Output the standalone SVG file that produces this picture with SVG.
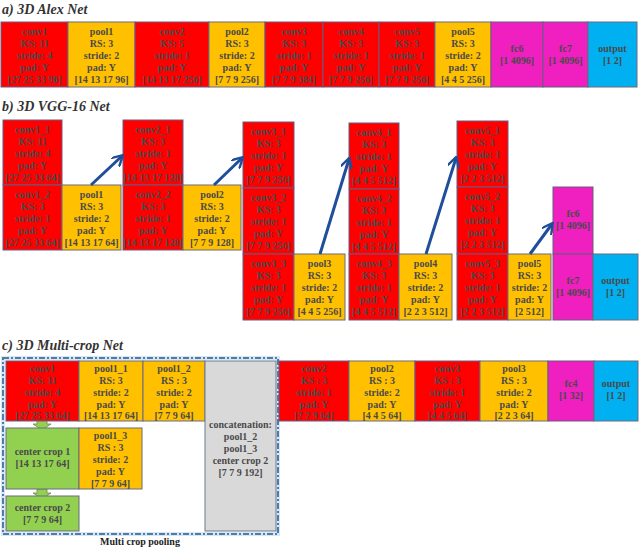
<svg xmlns="http://www.w3.org/2000/svg" width="640" height="547" viewBox="0 0 640 547">
<style>
.t{font-family:"Liberation Serif",serif;font-weight:bold;font-size:10px;fill:#4a4a4a;text-anchor:middle}
.h{font-family:"Liberation Serif",serif;font-weight:bold;font-style:italic;font-size:14px;fill:#333}
.r{fill:#ff0000;stroke:#6a5a80;stroke-width:1}
.y{fill:#ffc000;stroke:#6a6a80;stroke-width:1}
.m{fill:#f01fc0;stroke:#6a5a80;stroke-width:1}
.b{fill:#00b0f0;stroke:#6a6a80;stroke-width:1}
.g{fill:#92d050;stroke:#6a6a80;stroke-width:1}
.c{fill:#d9d9d9;stroke:#6a7a90;stroke-width:1}
.a{stroke:#1f4e9a;stroke-width:3;fill:none;marker-end:url(#ah)}
</style>
<defs><marker id="ah" viewBox="0 0 10 10" refX="8" refY="5" markerWidth="4" markerHeight="4" orient="auto"><path d="M0,0 L9,5 L0,10" fill="none" stroke="#1f4e9a" stroke-width="2"/></marker></defs>
<rect width="640" height="547" fill="#fff"/>
<text class="h" x="2" y="14">a) 3D Alex Net</text>
<text class="h" x="2" y="111">b) 3D VGG-16 Net</text>
<text class="h" x="2" y="350">c) 3D Multi-crop Net</text>

<g id="alex">
<rect class="r" x="1" y="22" width="67" height="65"/><text class="t" x="34.5"><tspan x="34.5" y="35">conv1</tspan><tspan x="34.5" y="47">KS: 11</tspan><tspan x="34.5" y="59">stride: 4</tspan><tspan x="34.5" y="71">pad: Y</tspan><tspan x="34.5" y="83">[27 25 33 96]</tspan></text>
<rect class="y" x="68" y="22" width="67" height="65"/><text class="t"><tspan x="101.5" y="35">pool1</tspan><tspan x="101.5" y="47">RS: 3</tspan><tspan x="101.5" y="59">stride: 2</tspan><tspan x="101.5" y="71">pad: Y</tspan><tspan x="101.5" y="83">[14 13 17 96]</tspan></text>
<rect class="r" x="135" y="22" width="74" height="65"/><text class="t"><tspan x="172" y="35">conv2</tspan><tspan x="172" y="47">KS: 5</tspan><tspan x="172" y="59">stride: 1</tspan><tspan x="172" y="71">pad: Y</tspan><tspan x="172" y="83">[14 13 17 256]</tspan></text>
<rect class="y" x="209" y="22" width="56" height="65"/><text class="t"><tspan x="237" y="35">pool2</tspan><tspan x="237" y="47">RS: 3</tspan><tspan x="237" y="59">stride: 2</tspan><tspan x="237" y="71">pad: Y</tspan><tspan x="237" y="83">[7 7 9 256]</tspan></text>
<rect class="r" x="265" y="22" width="58" height="65"/><text class="t"><tspan x="294" y="35">conv3</tspan><tspan x="294" y="47">KS: 3</tspan><tspan x="294" y="59">stride: 1</tspan><tspan x="294" y="71">pad: Y</tspan><tspan x="294" y="83">[7 7 9 384]</tspan></text>
<rect class="r" x="323" y="22" width="56" height="65"/><text class="t"><tspan x="351" y="35">conv4</tspan><tspan x="351" y="47">KS: 3</tspan><tspan x="351" y="59">stride: 1</tspan><tspan x="351" y="71">pad: Y</tspan><tspan x="351" y="83">[7 7 9 256]</tspan></text>
<rect class="r" x="379" y="22" width="56" height="65"/><text class="t"><tspan x="407" y="35">conv5</tspan><tspan x="407" y="47">KS: 3</tspan><tspan x="407" y="59">stride: 1</tspan><tspan x="407" y="71">pad: Y</tspan><tspan x="407" y="83">[7 7 9 256]</tspan></text>
<rect class="y" x="435" y="22" width="56" height="65"/><text class="t"><tspan x="463" y="35">pool5</tspan><tspan x="463" y="47">RS: 3</tspan><tspan x="463" y="59">stride: 2</tspan><tspan x="463" y="71">pad: Y</tspan><tspan x="463" y="83">[4 4 5 256]</tspan></text>
<rect class="m" x="491" y="22" width="52" height="65"/><text class="t"><tspan x="517" y="52">fc6</tspan><tspan x="517" y="64">[1 4096]</tspan></text>
<rect class="m" x="543" y="22" width="45" height="65"/><text class="t"><tspan x="565.5" y="52">fc7</tspan><tspan x="565.5" y="64">[1 4096]</tspan></text>
<rect class="b" x="588" y="22" width="49" height="65"/><text class="t"><tspan x="612.5" y="52">output</tspan><tspan x="612.5" y="64">[1 2]</tspan></text>
</g>

<g id="vgg">
<rect class="r" x="3" y="120" width="59" height="65"/><text class="t"><tspan x="32.5" y="133">conv1_1</tspan><tspan x="32.5" y="145">KS: 11</tspan><tspan x="32.5" y="157">stride: 4</tspan><tspan x="32.5" y="169">pad: Y</tspan><tspan x="32.5" y="181">[27 25 33 64]</tspan></text>
<rect class="r" x="3" y="185" width="59" height="65"/><text class="t"><tspan x="32.5" y="198">conv1_2</tspan><tspan x="32.5" y="210">KS: 3</tspan><tspan x="32.5" y="222">stride: 1</tspan><tspan x="32.5" y="234">pad: Y</tspan><tspan x="32.5" y="246">[27 25 33 64]</tspan></text>
<rect class="y" x="62" y="185" width="59" height="65"/><text class="t"><tspan x="91.5" y="198">pool1</tspan><tspan x="91.5" y="210">RS: 3</tspan><tspan x="91.5" y="222">stride: 2</tspan><tspan x="91.5" y="234">pad: Y</tspan><tspan x="91.5" y="246">[14 13 17 64]</tspan></text>
<rect class="r" x="123" y="120" width="60" height="65"/><text class="t"><tspan x="153" y="133">conv2_1</tspan><tspan x="153" y="145">KS: 3</tspan><tspan x="153" y="157">stride: 1</tspan><tspan x="153" y="169">pad: Y</tspan><tspan x="153" y="181">[14 13 17 128]</tspan></text>
<rect class="r" x="123" y="185" width="60" height="65"/><text class="t"><tspan x="153" y="198">conv2_2</tspan><tspan x="153" y="210">KS: 3</tspan><tspan x="153" y="222">stride: 1</tspan><tspan x="153" y="234">pad: Y</tspan><tspan x="153" y="246">[14 13 17 128]</tspan></text>
<rect class="y" x="183" y="185" width="58" height="65"/><text class="t"><tspan x="212" y="198">pool2</tspan><tspan x="212" y="210">RS: 3</tspan><tspan x="212" y="222">stride: 2</tspan><tspan x="212" y="234">pad: Y</tspan><tspan x="212" y="246">[7 7 9 128]</tspan></text>
<rect class="r" x="243" y="122" width="51" height="66"/><text class="t"><tspan x="268.5" y="135">conv3_1</tspan><tspan x="268.5" y="147">KS: 3</tspan><tspan x="268.5" y="159">stride: 1</tspan><tspan x="268.5" y="171">pad: Y</tspan><tspan x="268.5" y="183">[7 7 9 256]</tspan></text>
<rect class="r" x="243" y="188" width="51" height="66"/><text class="t"><tspan x="268.5" y="201">conv3_2</tspan><tspan x="268.5" y="213">KS: 3</tspan><tspan x="268.5" y="225">stride: 1</tspan><tspan x="268.5" y="237">pad: Y</tspan><tspan x="268.5" y="249">[7 7 9 256]</tspan></text>
<rect class="r" x="243" y="254" width="51" height="66"/><text class="t"><tspan x="268.5" y="267">conv3_3</tspan><tspan x="268.5" y="279">KS: 3</tspan><tspan x="268.5" y="291">stride: 1</tspan><tspan x="268.5" y="303">pad: Y</tspan><tspan x="268.5" y="315">[7 7 9 256]</tspan></text>
<rect class="y" x="294" y="254" width="51" height="66"/><text class="t"><tspan x="319.5" y="267">pool3</tspan><tspan x="319.5" y="279">RS: 3</tspan><tspan x="319.5" y="291">stride: 2</tspan><tspan x="319.5" y="303">pad: Y</tspan><tspan x="319.5" y="315">[4 4 5 256]</tspan></text>
<rect class="r" x="349" y="123" width="50" height="66"/><text class="t"><tspan x="374" y="136">conv4_1</tspan><tspan x="374" y="148">KS: 3</tspan><tspan x="374" y="160">stride: 1</tspan><tspan x="374" y="172">pad: Y</tspan><tspan x="374" y="184">[4 4 5 512]</tspan></text>
<rect class="r" x="349" y="189" width="50" height="65"/><text class="t"><tspan x="374" y="202">conv4_2</tspan><tspan x="374" y="214">KS: 3</tspan><tspan x="374" y="226">stride: 1</tspan><tspan x="374" y="238">pad: Y</tspan><tspan x="374" y="250">[4 4 5 512]</tspan></text>
<rect class="r" x="349" y="254" width="50" height="66"/><text class="t"><tspan x="374" y="267">conv4_3</tspan><tspan x="374" y="279">KS: 3</tspan><tspan x="374" y="291">stride: 1</tspan><tspan x="374" y="303">pad: Y</tspan><tspan x="374" y="315">[4 4 5 512]</tspan></text>
<rect class="y" x="399" y="254" width="53" height="66"/><text class="t"><tspan x="425.5" y="267">pool4</tspan><tspan x="425.5" y="279">RS: 3</tspan><tspan x="425.5" y="291">stride: 2</tspan><tspan x="425.5" y="303">pad: Y</tspan><tspan x="425.5" y="315">[2 2 3 512]</tspan></text>
<rect class="r" x="457" y="121" width="51" height="66"/><text class="t"><tspan x="482.5" y="134">conv5_1</tspan><tspan x="482.5" y="146">KS: 3</tspan><tspan x="482.5" y="158">stride: 1</tspan><tspan x="482.5" y="170">pad: Y</tspan><tspan x="482.5" y="182">[2 2 3 512]</tspan></text>
<rect class="r" x="457" y="187" width="51" height="67"/><text class="t"><tspan x="482.5" y="200">conv5_2</tspan><tspan x="482.5" y="212">KS: 3</tspan><tspan x="482.5" y="224">stride: 1</tspan><tspan x="482.5" y="236">pad: Y</tspan><tspan x="482.5" y="248">[2 2 3 512]</tspan></text>
<rect class="r" x="457" y="254" width="51" height="66"/><text class="t"><tspan x="482.5" y="267">conv5_3</tspan><tspan x="482.5" y="279">KS: 3</tspan><tspan x="482.5" y="291">stride: 1</tspan><tspan x="482.5" y="303">pad: Y</tspan><tspan x="482.5" y="315">[2 2 3 512]</tspan></text>
<rect class="y" x="508" y="254" width="43" height="66"/><text class="t"><tspan x="529.5" y="267">pool5</tspan><tspan x="529.5" y="279">RS: 3</tspan><tspan x="529.5" y="291">stride: 2</tspan><tspan x="529.5" y="303">pad: Y</tspan><tspan x="529.5" y="315">[2  512]</tspan></text>
<rect class="m" x="553" y="187" width="40" height="67"/><text class="t"><tspan x="573" y="217">fc6</tspan><tspan x="573" y="229">[1 4096]</tspan></text>
<rect class="m" x="553" y="254" width="40" height="66"/><text class="t"><tspan x="573" y="284">fc7</tspan><tspan x="573" y="296">[1 4096]</tspan></text>
<rect class="b" x="593" y="254" width="45" height="66"/><text class="t"><tspan x="615.5" y="284">output</tspan><tspan x="615.5" y="296">[1 2]</tspan></text>
</g>

<g id="connectors">
<line class="a" x1="91" y1="185" x2="122" y2="156"/>
<line class="a" x1="214" y1="185" x2="242" y2="158"/>
<line class="a" x1="320" y1="254" x2="349" y2="159"/>
<line class="a" x1="426" y1="254" x2="456" y2="158"/>
<line class="a" x1="530" y1="254" x2="552" y2="224"/>
<path d="M37,420 h10 v4 h4 l-9,6 l-9,-6 h4 z" fill="#92d050" stroke="#6a8a50" stroke-width="0.8"/>
<path d="M37,489 h10 v4 h4 l-9,6 l-9,-6 h4 z" fill="#92d050" stroke="#6a8a50" stroke-width="0.8"/>
</g>

<g id="multicrop">
<rect x="3" y="358" width="275" height="176" fill="none" stroke="#1f4e79" stroke-width="2" stroke-dasharray="6,2,2,2"/>
<rect x="3" y="358" width="275" height="176" fill="none" stroke="#9dc3e6" stroke-width="4" stroke-opacity="0.4"/>
<rect class="r" x="6" y="361" width="73" height="60"/><text class="t"><tspan x="42.5" y="372">conv1</tspan><tspan x="42.5" y="384">KS: 11</tspan><tspan x="42.5" y="396">stride: 4</tspan><tspan x="42.5" y="408">pad: Y</tspan><tspan x="42.5" y="419">[27 25 33 64]</tspan></text>
<rect class="y" x="79" y="361" width="64" height="60"/><text class="t"><tspan x="111" y="372">pool1_1</tspan><tspan x="111" y="384">RS: 3</tspan><tspan x="111" y="396">stride: 2</tspan><tspan x="111" y="408">pad: Y</tspan><tspan x="111" y="419">[14 13 17 64]</tspan></text>
<rect class="y" x="143" y="361" width="62" height="60"/><text class="t"><tspan x="174" y="372">pool1_2</tspan><tspan x="174" y="384">RS : 3</tspan><tspan x="174" y="396">stride: 2</tspan><tspan x="174" y="408">pad: Y</tspan><tspan x="174" y="419">[7 7 9 64]</tspan></text>
<rect class="c" x="205" y="361" width="71" height="170"/><text class="t"><tspan x="240.5" y="428">concatenation:</tspan><tspan x="240.5" y="440">pool1_2</tspan><tspan x="240.5" y="452">pool1_3</tspan><tspan x="240.5" y="464">center crop 2</tspan><tspan x="240.5" y="476">[7 7 9 192]</tspan></text>
<rect class="g" x="6" y="428" width="73" height="61"/><text class="t"><tspan x="42.5" y="455">center crop 1</tspan><tspan x="42.5" y="467">[14 13 17 64]</tspan></text>
<rect class="y" x="79" y="428" width="63" height="61"/><text class="t"><tspan x="110.5" y="439">pool1_3</tspan><tspan x="110.5" y="451">RS : 3</tspan><tspan x="110.5" y="463">stride: 2</tspan><tspan x="110.5" y="475">pad: Y</tspan><tspan x="110.5" y="487">[7 7 9 64]</tspan></text>
<rect class="g" x="6" y="496" width="73" height="35"/><text class="t"><tspan x="42.5" y="511">center crop 2</tspan><tspan x="42.5" y="523">[7 7 9 64]</tspan></text>
<text class="t" x="140" y="545" style="fill:#222">Multi crop pooling</text>
</g>

<g id="multicrop-rest">
<rect class="r" x="279" y="361" width="70" height="60"/><text class="t"><tspan x="314" y="372">conv2</tspan><tspan x="314" y="384">KS : 3</tspan><tspan x="314" y="396">stride: 1</tspan><tspan x="314" y="408">pad: Y</tspan><tspan x="314" y="419">[7 7 9 64]</tspan></text>
<rect class="y" x="349" y="361" width="66" height="60"/><text class="t"><tspan x="382" y="372">pool2</tspan><tspan x="382" y="384">RS : 3</tspan><tspan x="382" y="396">stride: 2</tspan><tspan x="382" y="408">pad: Y</tspan><tspan x="382" y="419">[4 4 5 64]</tspan></text>
<rect class="r" x="415" y="361" width="65" height="60"/><text class="t"><tspan x="447.5" y="372">conv3</tspan><tspan x="447.5" y="384">KS : 3</tspan><tspan x="447.5" y="396">stride: 1</tspan><tspan x="447.5" y="408">pad: Y</tspan><tspan x="447.5" y="419">[4 4 5 64]</tspan></text>
<rect class="y" x="480" y="361" width="68" height="60"/><text class="t"><tspan x="514" y="372">pool3</tspan><tspan x="514" y="384">RS : 3</tspan><tspan x="514" y="396">stride: 2</tspan><tspan x="514" y="408">pad: Y</tspan><tspan x="514" y="419">[2 2 3 64]</tspan></text>
<rect class="m" x="548" y="361" width="46" height="60"/><text class="t"><tspan x="571" y="387">fc4</tspan><tspan x="571" y="399">[1 32]</tspan></text>
<rect class="b" x="594" y="361" width="44" height="60"/><text class="t"><tspan x="616" y="387">output</tspan><tspan x="616" y="399">[1 2]</tspan></text>
</g>
</svg>
